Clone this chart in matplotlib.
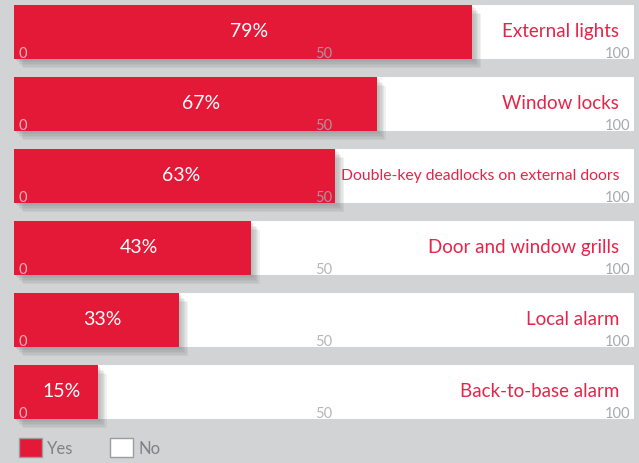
import matplotlib
matplotlib.use("Agg")
import matplotlib.pyplot as plt
import matplotlib.patheffects as pe
from matplotlib.patches import Patch

# data
categories = ["External lights", "Window locks", "Double-key deadlocks on external doors",
              "Door and window grills", "Local alarm", "Back-to-base alarm"]
yes_pct = [79, 67, 63, 43, 33, 15]
# where each red bar ends on the 0-100 scale printed under it
bar_extent = [73.9, 58.5, 51.8, 38.2, 26.6, 13.5]
tick_values = [0, 50, 100]
legend_labels = ["Yes", "No"]

RED = "#e31937"
LABEL_RED = "#e4244a"
BG = "#d1d3d4"
TICK_GREY = "#a7a9ac"

plt.rcParams["font.family"] = ["Lato", "DejaVu Sans"]

W, H = 639, 464
fig = plt.figure(figsize=(W / 100, H / 100), dpi=100)
fig.patch.set_facecolor(BG)

# axes: 14..634 px across, rows at 72 px pitch starting at y=6
ax = fig.add_axes([14 / W, (H - 429) / H, 620 / W, 432 / H])
ax.set_xlim(0, 100)
ax.set_ylim(len(categories) - 0.5, -0.5)
ax.axis("off")

rows = range(len(categories))
ax.barh(list(rows), [100] * len(categories), height=0.75, color="white", zorder=1)

# soft drop shadow: stacked offset copies
shadow = [pe.SimplePatchShadow(offset=(d, -d), shadow_rgbFace="#77797b", alpha=0.1)
          for d in (1.5, 2.5, 3.5, 4.5, 5.5, 6.5)]
bars = ax.barh(list(rows), bar_extent, height=0.75, color=RED, zorder=2)
for b in bars:
    b.set_path_effects(shadow + [pe.Normal()])

for i, (cat, pct, ext) in enumerate(zip(categories, yes_pct, bar_extent)):
    ax.text(ext / 2 + 1, i - 0.02, f"{pct}%", color="white", fontsize=14,
            ha="center", va="center", zorder=4)
    fs = 11.3 if len(cat) > 30 else 13.5
    ax.text(97.6, i - 0.02, cat, color=LABEL_RED, fontsize=fs,
            ha="right", va="center", zorder=4)
    for t in tick_values:
        if t == 0:
            ax.text(0.8, i + 0.35, "0", color="white", alpha=0.65, fontsize=10.5,
                    ha="left", va="baseline", zorder=4)
        elif t == 50:
            ax.text(50, i + 0.35, "50", color=TICK_GREY, alpha=0.85, fontsize=10.5,
                    ha="center", va="baseline", zorder=4)
        else:
            ax.text(99.4, i + 0.35, "100", color=TICK_GREY, fontsize=10.5,
                    ha="right", va="baseline", zorder=4)

handles = [Patch(facecolor=RED, edgecolor="#9a9c9e", linewidth=1),
           Patch(facecolor="white", edgecolor="#9a9c9e", linewidth=1)]
fig.legend(handles, legend_labels, loc="lower left", bbox_to_anchor=(4 / W, -9 / H),
           ncol=2, frameon=False, fontsize=12, handlelength=1.35, handleheight=1.35,
           handletextpad=0.35, columnspacing=2.2, labelcolor="#808285")

fig.savefig("out.png", dpi=100, facecolor=BG)
